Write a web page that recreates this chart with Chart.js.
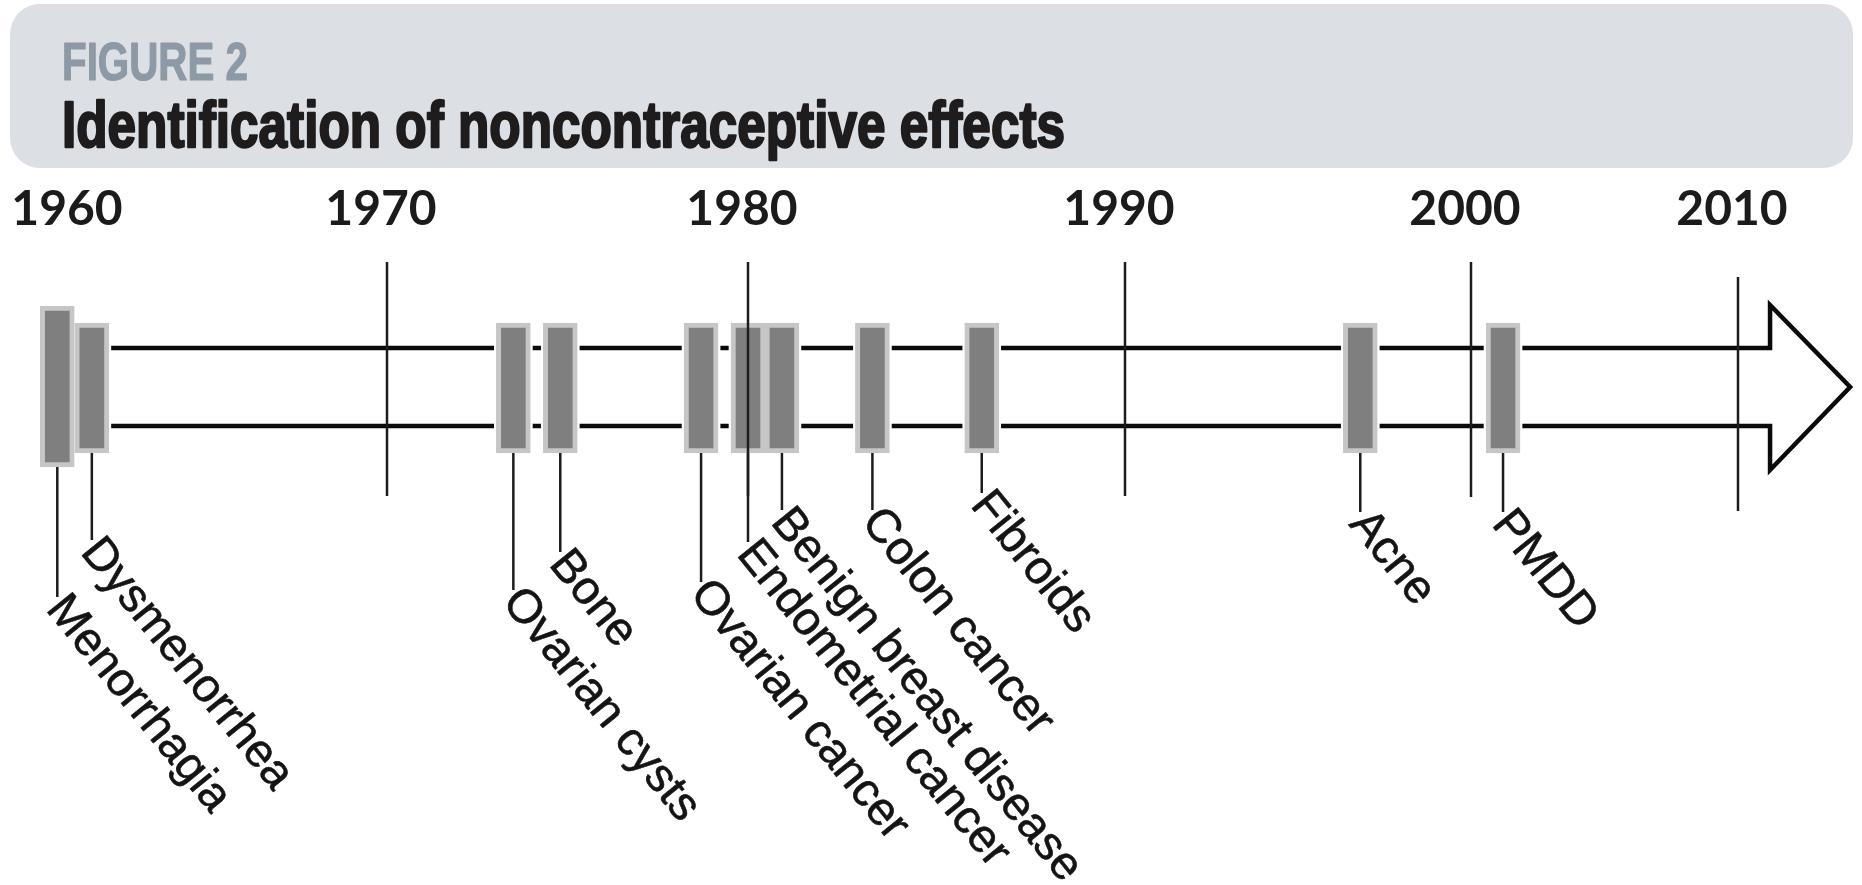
<!DOCTYPE html>
<html>
<head>
<meta charset="utf-8">
<title>Identification of noncontraceptive effects</title>
<script src="https://cdn.jsdelivr.net/npm/chart.js@4.4.1/dist/chart.umd.min.js"></script>
<style>
  html, body { margin: 0; padding: 0; background: #fff; }
  #wrap { position: relative; width: 1862px; height: 885px; }
</style>
</head>
<body>
<div id="wrap"><canvas id="timeline"></canvas></div>
<script>
// ---- data ----
const effects = [
  'Menorrhagia', 'Dysmenorrhea', 'Ovarian cysts', 'Bone', 'Ovarian cancer',
  'Endometrial cancer', 'Benign breast disease', 'Colon cancer', 'Fibroids', 'Acne', 'PMDD'
];
const effectYears = [1959.5, 1960.6, 1973.5, 1974.8, 1978.7, 1980.0, 1980.9, 1983.3, 1986.2, 1996.8, 2001.2];
const decadeTicks = [1960, 1970, 1980, 1990, 2000, 2010];
const decadeLabels = ['1960', '1970', '1980', '1990', '2000', '2010'];
// the double-line arrow runs from the first boxes to a little past 2010
const timelineStart = 1960.6;
const timelineShaftEnd = 2011.2;
const timelineTip = 2014.2;

// ---- layout (the hidden y axis is mapped 1:1 onto canvas pixels) ----
const W = 1862, H = 885;
const CHART_TOP = 250;
// the decades are hand spaced in the original, so the x scale is piecewise
const decadePx = [73, 387, 748, 1125, 1471, 1738];
const BAND = { top: 323, bottom: 453 };
const TALL_BAND = { top: 306, bottom: 467 }; // Menorrhagia box is taller
const RAIL = { top: 348, bottom: 426, headTop: 305, headBottom: 470, mid: 387 };
const DECADE_SPAN = { 1970: [262, 496], 1980: [262, 496], 1990: [262, 496], 2000: [262, 497], 2010: [277, 511] };
const labelDrop = [597, 540, 590, 552, 582, 542, 510, 510, 493, 512, 512]; // where each leader meets its label
const LABEL_ANGLE = 51 * Math.PI / 180;
const LABEL_SIZE = 47;

// piecewise-linear year axis
class DecadeScale extends Chart.LinearScale {
  static id = 'decade';
  static defaults = {};

  buildTicks() {
    return decadeTicks.map(v => ({ value: v }));
  }

  toDecimal(v) {
    let i = 0;
    while (i < decadeTicks.length - 2 && v > decadeTicks[i + 1]) i++;
    const y0 = decadeTicks[i], y1 = decadeTicks[i + 1];
    const p0 = decadePx[i], p1 = decadePx[i + 1];
    return (p0 + (v - y0) * (p1 - p0) / (y1 - y0)) / W;
  }

  getPixelForValue(v) {
    if (v === null || v === undefined || isNaN(v)) return NaN;
    return this.getPixelForDecimal(this.toDecimal(v));
  }
}
Chart.register(DecadeScale);

function isTall(name) {
  return name === 'Menorrhagia';
}

function fitText(ctx, text, x, y, font, color, width, stroke) {
  ctx.font = font;
  const sx = Math.min(1, width / ctx.measureText(text).width);
  ctx.save();
  ctx.translate(x, y);
  ctx.scale(sx, 1);
  ctx.fillStyle = color;
  ctx.textAlign = 'left';
  ctx.textBaseline = 'alphabetic';
  ctx.fillText(text, 0, 0);
  if (stroke) {
    ctx.strokeStyle = color;
    ctx.lineWidth = stroke;
    ctx.lineJoin = 'round';
    ctx.strokeText(text, 0, 0);
  }
  ctx.restore();
}

// grey header panel with the figure title
const header = {
  id: 'header',
  beforeDraw(chart) {
    const ctx = chart.ctx;
    ctx.save();
    ctx.fillStyle = '#dce0e4';
    ctx.beginPath();
    ctx.roundRect(10, 4, 1843, 164, 30);
    ctx.fill();
    ctx.restore();
    fitText(ctx, 'FIGURE 2', 62, 80, 'bold 53px "Liberation Sans", Arial, sans-serif', '#8d9aa6', 186, 1.2);
    fitText(ctx, 'Identification of noncontraceptive effects', 62, 147,
      'bold 65px "Liberation Sans", Arial, sans-serif', '#1e1c1d', 1003, 2.4);
  }
};

// slanted effect names at the foot of each leader line
const effectLabels = {
  id: 'effectLabels',
  afterDatasetsDraw(chart) {
    const { ctx, scales: { x, y } } = chart;
    ctx.save();
    ctx.font = LABEL_SIZE + 'px "Liberation Sans", Arial, sans-serif';
    ctx.fillStyle = '#141414';
    ctx.strokeStyle = '#141414';
    ctx.lineWidth = 0.6;
    ctx.textAlign = 'left';
    ctx.textBaseline = 'alphabetic';
    effects.forEach((name, i) => {
      ctx.save();
      ctx.translate(x.getPixelForValue(effectYears[i]), y.getPixelForValue(labelDrop[i]));
      ctx.rotate(LABEL_ANGLE);
      // the leader meets the middle of the first letter's side
      ctx.fillText(name, 2, LABEL_SIZE * 0.37);
      ctx.strokeText(name, 2, LABEL_SIZE * 0.37);
      ctx.restore();
    });
    ctx.restore();
  }
};

const boxData = effects.map((name, i) => {
  const b = isTall(name) ? TALL_BAND : BAND;
  return { x: effectYears[i], y: [b.bottom, b.top] };
});
const haloData = effects.map((name, i) => {
  const b = isTall(name) ? TALL_BAND : BAND;
  return { x: effectYears[i], y: [b.bottom + 3, b.top - 3] };
});

const decadeLines = decadeTicks.filter(d => DECADE_SPAN[d]).map(d => ({
  type: 'scatter',
  label: String(d),
  data: [{ x: d, y: DECADE_SPAN[d][0] }, { x: d, y: DECADE_SPAN[d][1] }],
  showLine: true,
  borderColor: '#1c1c1c',
  borderWidth: 2.5,
  pointRadius: 0,
  clip: false,
  order: 0
}));

const leaderLines = effects.map((name, i) => ({
  type: 'scatter',
  label: name,
  data: [
    { x: effectYears[i], y: isTall(name) ? TALL_BAND.bottom : BAND.bottom },
    { x: effectYears[i], y: labelDrop[i] }
  ],
  showLine: true,
  borderColor: '#1c1c1c',
  borderWidth: 2.5,
  pointRadius: 0,
  clip: false,
  order: 0
}));

let data = {
  datasets: [
    ...decadeLines,
    ...leaderLines,
    {
      type: 'bar',
      label: 'effects',
      data: boxData,
      backgroundColor: '#7f7f7f',
      borderColor: '#c6c6c6',
      borderWidth: 5,
      borderSkipped: false,
      barThickness: 34,
      grouped: false,
      clip: false,
      order: 1
    },
    {
      type: 'bar',
      label: 'halo',
      data: haloData,
      backgroundColor: '#ffffff',
      borderWidth: 0,
      barThickness: 38,
      grouped: false,
      clip: false,
      order: 2
    },
    {
      type: 'scatter',
      label: 'timeline',
      data: [
        { x: timelineStart, y: RAIL.top }, { x: timelineShaftEnd, y: RAIL.top },
        { x: timelineShaftEnd, y: RAIL.headTop }, { x: timelineTip, y: RAIL.mid },
        { x: timelineShaftEnd, y: RAIL.headBottom }, { x: timelineShaftEnd, y: RAIL.bottom },
        { x: timelineStart, y: RAIL.bottom }
      ],
      showLine: true,
      borderColor: '#0a0a0a',
      borderWidth: 4.5,
      borderJoinStyle: 'miter',
      pointRadius: 0,
      clip: false,
      order: 3
    }
  ]
};

let config = {
  type: 'bar',
  data: data,
  options: {
    responsive: true,
    maintainAspectRatio: false,
    animation: false,
    events: [],
    layout: { padding: { top: 170, left: 0, right: 0, bottom: 0 }, autoPadding: false },
    plugins: {
      legend: { display: false },
      tooltip: { enabled: false },
      title: { display: false }
    },
    scales: {
      x: {
        type: 'decade',
        position: 'top',
        offset: false,
        grid: { display: false, drawTicks: false },
        border: { display: false },
        ticks: {
          padding: 10,
          labelOffset: -6,
          maxRotation: 0,
          autoSkip: false,
          color: '#1b1b1b',
          font: { family: 'Lato, "Open Sans", sans-serif', weight: 'bold', size: 48, lineHeight: 1.25 },
          callback: (v, i) => decadeLabels[i]
        }
      },
      y: {
        type: 'linear',
        display: false,
        reverse: true,
        bounds: 'data',
        min: CHART_TOP,
        max: H
      }
    }
  },
  plugins: [header, effectLabels]
};

new Chart(document.getElementById('timeline'), config);
</script>
</body>
</html>
